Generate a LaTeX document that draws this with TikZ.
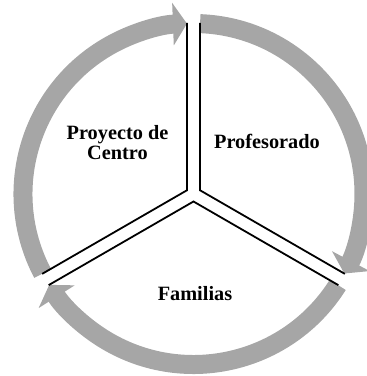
\documentclass[tikz,border=0pt]{standalone}
\usepackage{fontspec}
\setmainfont{Liberation Serif}
\usepackage{tikz}
\usetikzlibrary{arrows.meta}

\begin{document}
\begin{tikzpicture}[x=1pt,y=1pt,
        cyclearrow/.style={line width=19pt,color=gray!70,-{Triangle[length=14pt,width=42pt]}},
        divider/.style={black,line width=1.8pt},
        sector/.style={inner sep=0pt,font=\bfseries\fontsize{20.3}{20.5}\selectfont}]
            \useasboundingbox (0,0) rectangle (367,376);
            \coordinate (mid) at (193.5,182);

            % grey cycle arrows
            \begin{scope}[shift={(mid)}]
            \foreach \r in {0,120,240}
                \draw[cyclearrow] (87.8+\r:170.5) arc[start angle=87.8+\r,end angle=-27.8+\r,radius=170.5];

            % double lines between the three parts
            \foreach \r in {0,120,240}
                \draw[divider,rotate=\r] ([shift={(0:6.5)}]90:171) -- (30:7.5) -- ([shift={(60:6.5)}]-30:171);
            \end{scope}

            \node[sector,align=center] (proyecto) at (117.5,233.5) {Proyecto de\\Centro};
            \node[sector,anchor=base] (profesorado) at (267,227) {Profesorado};
            \node[sector,anchor=base] (familias) at (195,75) {Familias};
        \end{tikzpicture}
\end{document}
